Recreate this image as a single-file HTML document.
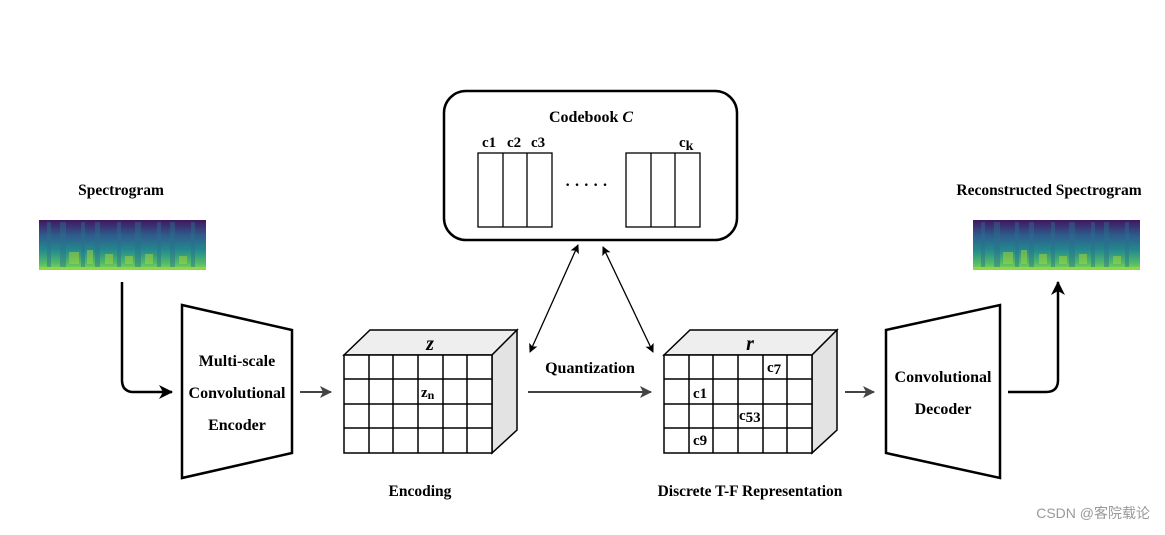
<!DOCTYPE html>
<html><head><meta charset="utf-8"><style>
body{margin:0;background:#fff}
svg text{font-family:"Liberation Serif",serif;font-weight:bold;fill:#000}
</style></head><body>
<svg width="1165" height="530" viewBox="0 0 1165 530" xmlns="http://www.w3.org/2000/svg">
<defs>
<linearGradient id="sg" x1="0" y1="0" x2="0" y2="1">
<stop offset="0" stop-color="#40175f"/><stop offset="0.3" stop-color="#2f5a8c"/><stop offset="0.6" stop-color="#23898e"/><stop offset="0.85" stop-color="#4fb86a"/><stop offset="0.97" stop-color="#7ad151"/><stop offset="1" stop-color="#9fdc3a"/>
</linearGradient>
<marker id="ah" markerWidth="14" markerHeight="14" refX="13" refY="7" orient="auto" markerUnits="userSpaceOnUse"><path d="M0,0 L14,7 L0,14 L4,7z" fill="#000"/></marker>
<marker id="ahg" markerWidth="12" markerHeight="12" refX="11" refY="6" orient="auto" markerUnits="userSpaceOnUse"><path d="M0,0 L12,6 L0,12 L3,6z" fill="#444"/></marker>
<marker id="ahs" markerWidth="9" markerHeight="9" refX="8" refY="4.5" orient="auto-start-reverse" markerUnits="userSpaceOnUse"><path d="M0,0 L9,4.5 L0,9 L2,4.5z" fill="#000"/></marker>
<g id="spec">
<rect x="0" y="0" width="167" height="50" fill="url(#sg)"/>
<g fill="#2b6f8e" opacity="0.45"><rect x="8" y="2" width="4" height="46"/><rect x="21" y="2" width="6" height="46"/><rect x="42" y="2" width="4" height="46"/><rect x="56" y="2" width="5" height="46"/><rect x="78" y="2" width="4" height="46"/><rect x="96" y="2" width="6" height="46"/><rect x="118" y="2" width="4" height="46"/><rect x="131" y="2" width="5" height="46"/><rect x="152" y="2" width="4" height="46"/></g>
<g fill="#b5de2b" opacity="0.45"><rect x="30" y="32" width="10" height="12"/><rect x="48" y="30" width="6" height="14"/><rect x="66" y="34" width="8" height="10"/><rect x="86" y="36" width="8" height="8"/><rect x="106" y="34" width="8" height="10"/><rect x="140" y="36" width="8" height="8"/></g>
<rect x="0" y="47" width="167" height="3" fill="#8fd744"/>
</g>
</defs>
<use href="#spec" x="39" y="220"/>
<use href="#spec" x="973" y="220"/>
<text x="121" y="195" font-size="15.5" text-anchor="middle">Spectrogram</text>
<text x="1049" y="195" font-size="15.5" text-anchor="middle">Reconstructed Spectrogram</text>
<!-- codebook -->
<rect x="444" y="91" width="293" height="149" rx="22" fill="#fff" stroke="#000" stroke-width="2.5"/>
<text x="591" y="122" font-size="16" text-anchor="middle">Codebook  <tspan font-style="italic">C</tspan></text>
<g fill="none" stroke="#000" stroke-width="1.3">
<rect x="478" y="153" width="74" height="74"/><line x1="503" y1="153" x2="503" y2="227"/><line x1="527" y1="153" x2="527" y2="227"/>
<rect x="626" y="153" width="74" height="74"/><line x1="651" y1="153" x2="651" y2="227"/><line x1="675" y1="153" x2="675" y2="227"/>
</g>
<text x="482" y="147" font-size="15">c1</text>
<text x="507" y="147" font-size="15">c2</text>
<text x="531" y="147" font-size="15">c3</text>
<text x="679" y="147" font-size="15">c<tspan dy="3" font-size="14">k</tspan></text>
<text x="565" y="190" font-size="16">· · · · ·</text>
<!-- double arrows -->
<line x1="578" y1="245" x2="530" y2="352" stroke="#000" stroke-width="1.3" marker-start="url(#ahs)" marker-end="url(#ahs)"/>
<line x1="603" y1="247" x2="653" y2="352" stroke="#000" stroke-width="1.3" marker-start="url(#ahs)" marker-end="url(#ahs)"/>
<!-- encoder -->
<polygon points="182,305 292,330 292,453 182,478" fill="#fff" stroke="#000" stroke-width="2.5"/>
<text x="237" y="366" font-size="16" text-anchor="middle">Multi-scale</text>
<text x="237" y="398" font-size="16" text-anchor="middle">Convolutional</text>
<text x="237" y="430" font-size="16" text-anchor="middle">Encoder</text>
<!-- decoder -->
<polygon points="886,330 1000,305 1000,478 886,453" fill="#fff" stroke="#000" stroke-width="2.5"/>
<text x="943" y="382" font-size="16" text-anchor="middle">Convolutional</text>
<text x="943" y="414" font-size="16" text-anchor="middle">Decoder</text>
<!-- cubes -->
<g stroke="#000" stroke-width="1.5">
<polygon points="344,355 370,330 517,330 492,355" fill="#eee"/>
<polygon points="492,355 517,330 517,430 492,453" fill="#e3e3e3"/>
<rect x="344" y="355" width="148" height="98" fill="#fff"/>
<g fill="none"><line x1="369" y1="355" x2="369" y2="453"/><line x1="393" y1="355" x2="393" y2="453"/><line x1="418" y1="355" x2="418" y2="453"/><line x1="443" y1="355" x2="443" y2="453"/><line x1="467" y1="355" x2="467" y2="453"/>
<line x1="344" y1="379" x2="492" y2="379"/><line x1="344" y1="404" x2="492" y2="404"/><line x1="344" y1="428" x2="492" y2="428"/></g>
</g>
<text x="430" y="350" font-size="20" font-style="italic" text-anchor="middle">z</text>
<text x="421" y="397" font-size="15">z<tspan font-size="12" dy="2">n</tspan></text>
<g stroke="#000" stroke-width="1.5">
<polygon points="664,355 690,330 837,330 812,355" fill="#eee"/>
<polygon points="812,355 837,330 837,430 812,453" fill="#e3e3e3"/>
<rect x="664" y="355" width="148" height="98" fill="#fff"/>
<g fill="none"><line x1="689" y1="355" x2="689" y2="453"/><line x1="713" y1="355" x2="713" y2="453"/><line x1="738" y1="355" x2="738" y2="453"/><line x1="763" y1="355" x2="763" y2="453"/><line x1="787" y1="355" x2="787" y2="453"/>
<line x1="664" y1="379" x2="812" y2="379"/><line x1="664" y1="404" x2="812" y2="404"/><line x1="664" y1="428" x2="812" y2="428"/></g>
</g>
<text x="750" y="350" font-size="20" font-style="italic" text-anchor="middle">r</text>
<text x="767" y="372" font-size="15">c<tspan dy="2">7</tspan></text>
<text x="693" y="398" font-size="15">c1</text>
<text x="739" y="420" font-size="15">c<tspan dy="2">53</tspan></text>
<text x="693" y="445" font-size="15">c9</text>
<text x="420" y="496" font-size="15.5" text-anchor="middle">Encoding</text>
<text x="750" y="496" font-size="15.5" text-anchor="middle">Discrete T-F Representation</text>
<text x="590" y="373" font-size="16" text-anchor="middle">Quantization</text>
<!-- arrows -->
<path d="M122,282 V380 Q122,392 134,392 H172" fill="none" stroke="#000" stroke-width="2.5" marker-end="url(#ah)"/>
<path d="M1008,392 H1046 Q1058,392 1058,380 V282" fill="none" stroke="#000" stroke-width="2.5" marker-end="url(#ah)"/>
<line x1="300" y1="392" x2="331" y2="392" stroke="#444" stroke-width="2" marker-end="url(#ahg)"/>
<line x1="528" y1="392" x2="651" y2="392" stroke="#444" stroke-width="2" marker-end="url(#ahg)"/>
<line x1="845" y1="392" x2="874" y2="392" stroke="#444" stroke-width="2" marker-end="url(#ahg)"/>
<text x="1150" y="518" font-size="14" text-anchor="end" style="font-family:'Liberation Sans','Noto Sans CJK SC',sans-serif;font-weight:normal;fill:#999">CSDN @客院载论</text>
</svg>
</body></html>
